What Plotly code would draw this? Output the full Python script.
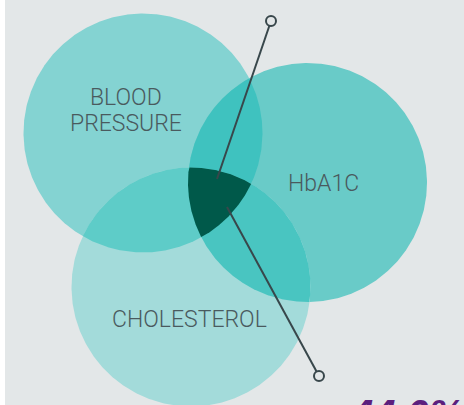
import numpy as np
import plotly.graph_objects as go

# ---- data ----
sets = ["BLOOD PRESSURE", "HbA1C", "CHOLESTEROL"]
label_lines = [["BLOOD", "PRESSURE"], ["HbA1C"], ["CHOLESTEROL"]]
centers_x = [143, 307.5, 191]
centers_y = [133, 182.5, 287]
radius = [119.5, 119.5, 119.5]
label_x = [126, 323, 189.5]
label_y = [110, 183, 319]

single_colors = ["#84D3D2", "#69CBC8", "#A3DBDA"]
pair_sets = [(0, 1), (0, 2), (1, 2)]
pair_colors = ["#3FC2BF", "#5ECCC8", "#49C5C1"]
triple_color = "#00594A"

leader_x = [[271, 217], [227, 319]]
leader_y = [[21, 179], [207, 376]]

big_value = "44.0%"

BG = "#E3E7E8"
INK = "#38474B"
LINE_GAP = 26


def circle_pts(i, n=720):
    t = np.linspace(0, 2 * np.pi, n, endpoint=False)
    return centers_x[i] + radius[i] * np.cos(t), centers_y[i] + radius[i] * np.sin(t)


def intersection(idx):
    xs, ys = [], []
    for i in idx:
        x, y = circle_pts(i, 2000)
        mask = np.ones_like(x, dtype=bool)
        for j in idx:
            if j == i:
                continue
            d = np.hypot(x - centers_x[j], y - centers_y[j])
            mask &= d <= radius[j] + 1e-9
        xs.append(x[mask]); ys.append(y[mask])
    x = np.concatenate(xs); y = np.concatenate(ys)
    cx, cy = x.mean(), y.mean()
    order = np.argsort(np.arctan2(y - cy, x - cx))
    x, y = x[order], y[order]
    return np.append(x, x[0]), np.append(y, y[0])


fig = go.Figure()

for i in range(3):
    x, y = circle_pts(i)
    fig.add_trace(go.Scatter(x=np.append(x, x[0]), y=np.append(y, y[0]), fill="toself",
                             fillcolor=single_colors[i], mode="lines", line=dict(width=0),
                             hoverinfo="skip", showlegend=False, name=sets[i]))
for (a, b), c in zip(pair_sets, pair_colors):
    x, y = intersection([a, b])
    fig.add_trace(go.Scatter(x=x, y=y, fill="toself", fillcolor=c, mode="lines",
                             line=dict(width=0), hoverinfo="skip", showlegend=False))
x, y = intersection([0, 1, 2])
fig.add_trace(go.Scatter(x=x, y=y, fill="toself", fillcolor=triple_color, mode="lines",
                         line=dict(width=0), hoverinfo="skip", showlegend=False))

for lx, ly in zip(leader_x, leader_y):
    fig.add_trace(go.Scatter(x=lx, y=ly, mode="lines", line=dict(color=INK, width=2),
                             hoverinfo="skip", showlegend=False))
end_x = [leader_x[0][0], leader_x[1][1]]
end_y = [leader_y[0][0], leader_y[1][1]]
fig.add_trace(go.Scatter(x=end_x, y=end_y, mode="markers",
                         marker=dict(symbol="circle", size=10, color=BG,
                                     line=dict(color=INK, width=2)),
                         hoverinfo="skip", showlegend=False))

for lines, tx, ty in zip(label_lines, label_x, label_y):
    n = len(lines)
    for k, s in enumerate(lines):
        fig.add_annotation(x=tx, y=ty + (k - (n - 1) / 2) * LINE_GAP, text=s, showarrow=False,
                           font=dict(family="Roboto", size=23, color="#4A5A5E", weight=300),
                           align="center")

fig.add_annotation(x=348, y=397, text="<b><i>" + big_value + "</i></b>", showarrow=False,
                   xanchor="left", yanchor="top", yshift=7,
                   font=dict(family="Liberation Sans", size=40, color="#5B1F7E"))

fig.update_layout(
    width=464, height=405,
    margin=dict(l=5, r=0, t=0, b=0),
    paper_bgcolor="white", plot_bgcolor=BG,
    xaxis=dict(range=[5, 464], visible=False, fixedrange=True),
    yaxis=dict(range=[405, 0], visible=False, fixedrange=True),
)

fig.write_html("out.html", config={"displayModeBar": False, "staticPlot": True},
               post_script="document.body.style.margin='0';document.body.style.overflow='hidden';")
